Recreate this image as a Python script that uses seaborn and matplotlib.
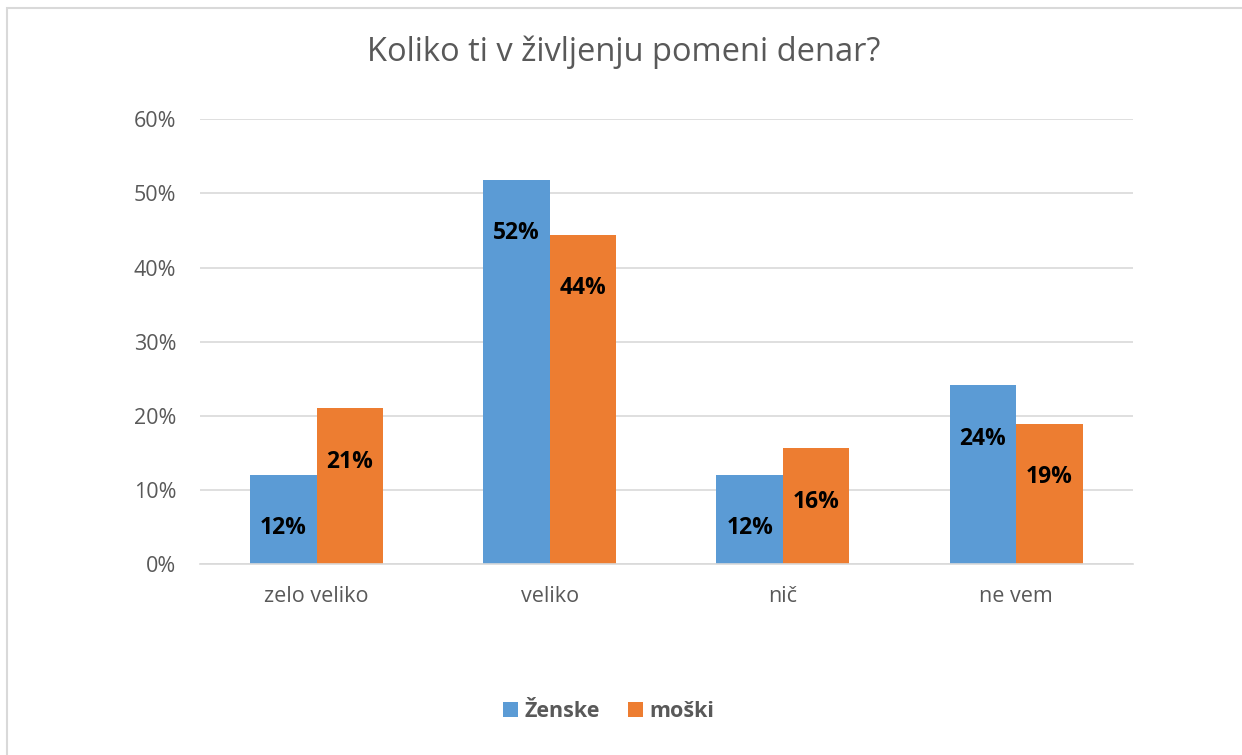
import pandas as pd
import matplotlib.pyplot as plt
import seaborn as sns
from matplotlib.patches import Rectangle

# Data (in percent)
categories = ["zelo veliko", "veliko", "nič", "ne vem"]
zenske = [12.0, 51.8, 12.0, 24.1]
moski = [21.0, 44.4, 15.6, 18.9]
series_names = ["Ženske", "moški"]
colors = ["#5B9BD5", "#ED7D31"]
y_ticks = [0, 10, 20, 30, 40, 50, 60]

df = pd.DataFrame({
    "kategorija": categories * 2,
    "spol": [series_names[0]] * 4 + [series_names[1]] * 4,
    "delez": zenske + moski,
})

sns.set_style("white")
plt.rcParams['font.family'] = ['Open Sans', 'DejaVu Sans']

fig = plt.figure(figsize=(12.42, 7.55), dpi=100)
ax = fig.add_axes([0.161, 0.253, 0.751, 0.589])

sns.barplot(
    data=df,
    x="kategorija",
    y="delez",
    hue="spol",
    palette=colors,
    saturation=1,
    width=0.57,
    gap=0,
    linewidth=0,
    ax=ax,
)

ax.set_ylim(0, 60)
ax.set_yticks(y_ticks)
ax.set_yticklabels([f"{t}%" for t in y_ticks], fontsize=15.5, color="#595959")
ax.tick_params(axis="x", labelsize=15.5, labelcolor="#595959", length=0, pad=16)
ax.tick_params(axis="y", length=0, pad=17)
ax.set_xlabel("")
ax.set_ylabel("")
ax.grid(axis="y", color="#D9D9D9", linewidth=1.2)
ax.set_axisbelow(True)
for s in ["top", "right", "left"]:
    ax.spines[s].set_visible(False)
ax.spines["bottom"].set_color("#D9D9D9")
ax.spines["bottom"].set_linewidth(1.2)

for cont in ax.containers:
    ax.bar_label(cont, labels=[f"{v:.0f}%" for v in cont.datavalues],
                 label_type="edge", padding=-47, fontsize=16.5,
                 fontweight="bold", color="black")

fig.text(0.502, 1 - 52 / 755, "Koliko ti v življenju pomeni denar?",
         fontsize=23.5, color="#595959", ha="center", va="center")

ax.legend_.remove()
handles, labels = ax.get_legend_handles_labels()
leg = fig.legend(handles, labels, loc="center", bbox_to_anchor=(0.49, 0.057),
                 ncol=2, frameon=False, handlelength=0.7, handleheight=0.7,
                 handletextpad=0.3, columnspacing=1.3,
                 prop={"size": 15.5, "weight": "bold"})
for t in leg.get_texts():
    t.set_color("#595959")

# Light chart border
fig.patches.append(Rectangle((7 / 1242, -0.01), 1.02, 1 - 8 / 755 + 0.01,
                             transform=fig.transFigure, fill=False,
                             edgecolor="#D9D9D9", linewidth=1.5))

plt.savefig("out.png", dpi=100)
